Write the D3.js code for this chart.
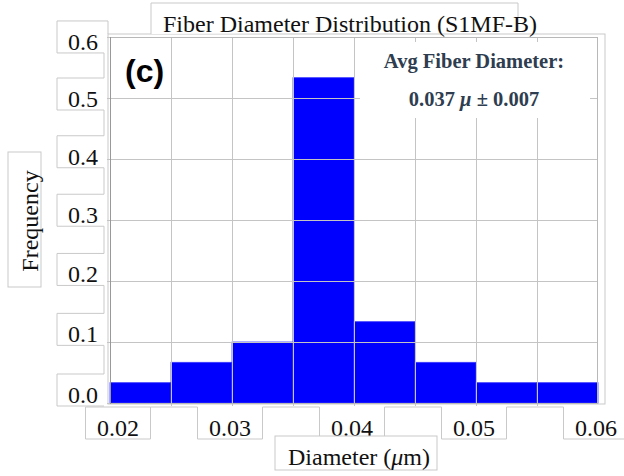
<!DOCTYPE html>
<html>
<head>
<meta charset="utf-8">
<script src="https://cdn.jsdelivr.net/npm/d3@7/dist/d3.min.js"></script>
<style>
  html, body { margin: 0; padding: 0; background: #fff; }
  svg { display: block; }
</style>
</head>
<body>
<svg id="chart" width="624" height="476"></svg>
<script>
// Histogram bins (fiber diameter, µm) and relative frequency per bin
const binStarts   = [0.020, 0.025, 0.030, 0.035, 0.040, 0.045, 0.050, 0.055];
const binEnds     = [0.025, 0.030, 0.035, 0.040, 0.045, 0.050, 0.055, 0.060];
const frequencies = [0.0333, 0.0667, 0.1000, 0.5333, 0.1333, 0.0667, 0.0333, 0.0333];

// Axis ticks and labels
const xTickValues = [0.02, 0.03, 0.04, 0.05, 0.06];
const xTickLabels = ["0.02", "0.03", "0.04", "0.05", "0.06"];
const xGridValues = [0.025, 0.03, 0.035, 0.04, 0.045, 0.05, 0.055];
const yTickValues = [0.6, 0.5, 0.4, 0.3, 0.2, 0.1, 0.0];
const yTickLabels = ["0.6", "0.5", "0.4", "0.3", "0.2", "0.1", "0.0"];

// Text
const titleText = "Fiber Diameter Distribution (S1MF-B)";
const panelTag = "(c)";
const statsHeading = "Avg Fiber Diameter:";
const statsMean = "0.037";
const statsSD = "0.007";

const svg = d3.select("#chart");
const boxStroke = "#c9c9c9";
const serif = '"Liberation Serif", "Times New Roman", serif';
const labelSize = 24;

const plot = { left: 110, right: 598, top: 37, bottom: 403 };
const x = d3.scaleLinear().domain([0.02, 0.06]).range([plot.left, plot.right]);
const y = d3.scaleLinear().domain([0, 0.6]).range([plot.bottom, plot.top]);

// Outer frame around the plotting region
svg.append("rect")
  .attr("x", 108).attr("y", 34).attr("width", 497).attr("height", 370)
  .attr("fill", "#fff").attr("stroke", boxStroke);

// Title box and title
svg.append("path")
  .attr("d", "M151,34 V3 H518 V31")
  .attr("fill", "#fff").attr("stroke", boxStroke);
svg.append("text")
  .attr("x", 350).attr("y", 32)
  .attr("text-anchor", "middle")
  .attr("font-family", serif).attr("font-size", labelSize)
  .attr("fill", "#111")
  .text(titleText);

// Y tick label boxes (stepped outline) and labels
const yBase = v => y(v) + 36 * v * v;
{
  let d = "";
  yTickValues.forEach((v, i) => {
    const top = yBase(v) - 29, bot = yBase(v) + 3;
    if (i === 0) d += `M108,34 V${top} H57 V${bot} H104`;
    else d += ` V${top} H57 V${bot} H104`;
  });
  svg.append("path").attr("d", d).attr("fill", "none").attr("stroke", boxStroke);
}
svg.selectAll("text.ytick")
  .data(yTickValues)
  .join("text")
  .attr("class", "ytick")
  .attr("x", 98)
  .attr("y", d => yBase(d))
  .attr("text-anchor", "end")
  .attr("font-family", serif).attr("font-size", labelSize).attr("fill", "#111")
  .text((d, i) => yTickLabels[i]);

// X tick label boxes (stepped outline) and labels
{
  const half = 32.5, top = 407, bot = 439;
  let d = "";
  xTickValues.forEach((v, i) => {
    const c = x(v) + (i === 0 ? 8 : -2);
    const l = c - half, r = c + half;
    if (i === 0) d += `M${r},${top} H${l} V${bot} H${r} V${top}`;
    else d += ` H${l} V${bot} H${r} V${top}`;
  });
  svg.append("path").attr("d", d).attr("fill", "none").attr("stroke", boxStroke);
}
svg.selectAll("text.xtick")
  .data(xTickValues)
  .join("text")
  .attr("class", "xtick")
  .attr("x", (d, i) => x(d) + (i === 0 ? 8 : -2))
  .attr("y", 436)
  .attr("text-anchor", "middle")
  .attr("font-family", serif).attr("font-size", labelSize).attr("fill", "#111")
  .text((d, i) => xTickLabels[i]);

// Axis title boxes
svg.append("rect")
  .attr("x", 275).attr("y", 436).attr("width", 162).attr("height", 34)
  .attr("fill", "#fff").attr("stroke", boxStroke);
const xTitle = svg.append("text")
  .attr("x", 359).attr("y", 465)
  .attr("text-anchor", "middle")
  .attr("font-family", serif).attr("font-size", labelSize).attr("fill", "#111");
xTitle.append("tspan").text("Diameter (");
xTitle.append("tspan").attr("font-style", "italic").text("\u03bc");
xTitle.append("tspan").text("m)");

svg.append("rect")
  .attr("x", 8).attr("y", 152).attr("width", 33).attr("height", 135)
  .attr("fill", "#fff").attr("stroke", boxStroke);
svg.append("text")
  .attr("transform", "translate(38,221) rotate(-90)")
  .attr("text-anchor", "middle")
  .attr("font-family", serif).attr("font-size", labelSize).attr("fill", "#111")
  .text("Frequency");

// Plot area
svg.append("rect")
  .attr("x", plot.left).attr("y", plot.top)
  .attr("width", plot.right - plot.left).attr("height", plot.bottom - plot.top)
  .attr("fill", "#fff");

// Histogram bars
svg.append("g")
  .selectAll("rect")
  .data(frequencies)
  .join("rect")
  .attr("x", (d, i) => x(binStarts[i]))
  .attr("width", (d, i) => x(binEnds[i]) - x(binStarts[i]))
  .attr("y", d => y(d))
  .attr("height", d => y(0) - y(d))
  .attr("fill", "#0000ff")
  .attr("stroke", "#3a3aff")
  .attr("stroke-width", 0.8);

// Grid lines drawn over the bars, with short outer ticks
const H = plot.bottom - plot.top, W = plot.right - plot.left;
const xGrid = svg.append("g")
  .attr("transform", `translate(0,${plot.bottom + 3})`)
  .call(d3.axisBottom(x).tickValues(xGridValues).tickSize(-(H + 3)).tickSizeOuter(0).tickFormat(""));
const yGrid = svg.append("g")
  .attr("transform", `translate(${plot.left - 3},0)`)
  .call(d3.axisLeft(y).tickValues(yTickValues).tickSize(-(W + 3)).tickSizeOuter(0).tickFormat(""));
[xGrid, yGrid].forEach(g => {
  g.select(".domain").remove();
  g.selectAll(".tick line").attr("stroke", "#c4c4c4").attr("stroke-width", 1);
});

// Summary annotation on a white panel
svg.append("rect")
  .attr("x", 360).attr("y", 42).attr("width", 230).attr("height", 76)
  .attr("fill", "#fff");
svg.append("text")
  .attr("x", 474).attr("y", 68)
  .attr("text-anchor", "middle")
  .attr("font-family", serif).attr("font-size", 20.5).attr("font-weight", "bold")
  .attr("fill", "#2e3d4f")
  .text(statsHeading);
const stats = svg.append("text")
  .attr("x", 474).attr("y", 106)
  .attr("text-anchor", "middle")
  .attr("font-family", serif).attr("font-size", 20.5).attr("font-weight", "bold")
  .attr("fill", "#2e3d4f");
stats.append("tspan").text(statsMean + " ");
stats.append("tspan").attr("font-style", "italic").text("\u03bc");
stats.append("tspan").text(" \u00b1 " + statsSD);

// Plot border and left axis line
svg.append("rect")
  .attr("x", plot.left + 0.5).attr("y", plot.top + 0.5)
  .attr("width", W - 1).attr("height", H)
  .attr("fill", "none").attr("stroke", "#b8b8b8");
svg.append("line")
  .attr("x1", plot.left + 0.5).attr("x2", plot.left + 0.5)
  .attr("y1", plot.top).attr("y2", plot.bottom + 1)
  .attr("stroke", "#999");

// Panel tag
svg.append("text")
  .attr("x", 125).attr("y", 82)
  .attr("font-family", '"Liberation Sans", Arial, sans-serif')
  .attr("font-size", 32).attr("font-weight", "bold").attr("fill", "#000")
  .text(panelTag);
</script>
</body>
</html>
